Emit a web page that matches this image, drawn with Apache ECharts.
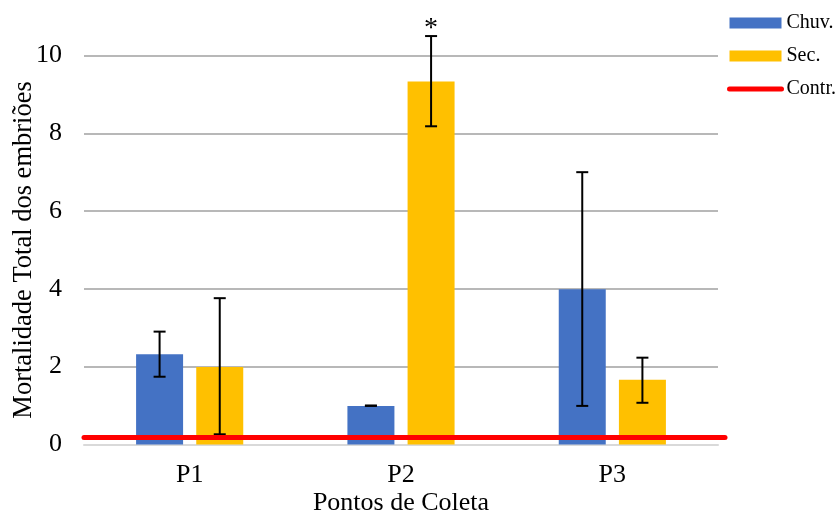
<!DOCTYPE html>
<html>
<head>
<meta charset="utf-8">
<script src="https://cdn.jsdelivr.net/npm/echarts@6/dist/echarts.min.js"></script>
<style>html,body{margin:0;padding:0;background:#fff}#c{width:838px;height:515px}</style>
</head>
<body>
<div id="c"></div>
<script>
const categories = ['P1', 'P2', 'P3'];
const chuv = [2.32, 0.99, 3.99];
const chuvLow = [1.74, 0.99, 0.99];
const chuvHigh = [2.90, 1.00, 7.00];
const sec = [1.99, 9.33, 1.66];
const secLow = [0.26, 8.18, 1.07];
const secHigh = [3.76, 10.50, 2.23];
const secMarks = ['', '*', ''];
const contr = 0.18;
const yTicks = [0, 2, 4, 6, 8, 10];

const FONT = 'Liberation Serif';
const BAR_W = 47;
const GAP = 0.28;
const OFF = BAR_W * (1 + GAP) / 2;

function errSeries(name, low, high, dir, marks) {
  return {
    type: 'custom', name: name + '_err', xAxisIndex: 0, yAxisIndex: 0, z: 5,
    data: categories.map((c, i) => [i, low[i], high[i]]),
    renderItem: function (params, api) {
      const i = api.value(0);
      const lo = api.coord([i, api.value(1)]);
      const hi = api.coord([i, api.value(2)]);
      const x = lo[0] + dir * OFF;
      const cw = 6;
      const st = { stroke: '#000', lineWidth: 2 };
      const children = [
        { type: 'line', shape: { x1: x, y1: lo[1], x2: x, y2: hi[1] }, style: st },
        { type: 'line', shape: { x1: x - cw, y1: lo[1], x2: x + cw, y2: lo[1] }, style: st },
        { type: 'line', shape: { x1: x - cw, y1: hi[1], x2: x + cw, y2: hi[1] }, style: st }
      ];
      if (marks && marks[i]) {
        children.push({ type: 'text', style: { text: marks[i], x: x, y: hi[1] - 7, align: 'center', verticalAlign: 'middle', font: '28px "' + FONT + '"', fill: '#000' } });
      }
      return { type: 'group', children: children };
    }
  };
}

const chart = echarts.init(document.getElementById('c'));
chart.setOption({
  animation: false,
  textStyle: { fontFamily: FONT, color: '#000' },
  grid: [
    { left: 84, right: 120, top: 55.5, bottom: 70.6, outerBoundsMode: 'none', containLabel: false },
    { left: 84, right: 113, top: 55.5, bottom: 70.6, outerBoundsMode: 'none', containLabel: false }
  ],
  legend: {
    orient: 'vertical', left: 722, top: 8, itemWidth: 52, itemHeight: 11, itemGap: 13,
    textStyle: { fontFamily: FONT, fontSize: 20, color: '#000' },
    data: [
      { name: 'Chuv.', icon: 'rect' },
      { name: 'Sec.', icon: 'rect' },
      { name: 'Contr.', itemStyle: { opacity: 0 }, lineStyle: { width: 5, color: '#ff0000', cap: 'round' } }
    ]
  },
  xAxis: [
    {
      type: 'category', data: categories, gridIndex: 0,
      axisLine: { lineStyle: { color: '#d9d9d9', width: 2 } }, axisTick: { show: false },
      axisLabel: { fontFamily: FONT, fontSize: 26, color: '#000', margin: 18 },
      name: 'Pontos de Coleta', nameLocation: 'middle', nameGap: 46, nameMoveOverlap: false,
      nameTextStyle: { fontFamily: FONT, fontSize: 26, color: '#000' }
    },
    { type: 'value', gridIndex: 1, min: 0, max: 1, show: false }
  ],
  yAxis: [
    {
      type: 'value', gridIndex: 0, min: yTicks[0], max: yTicks[yTicks.length - 1], interval: 2,
      axisLine: { show: false }, axisTick: { show: false },
      splitLine: { lineStyle: { color: '#a0a0a0', width: 1.5 } },
      axisLabel: { fontFamily: FONT, fontSize: 26, color: '#000', margin: 22 },
      name: 'Mortalidade Total dos embriões', nameLocation: 'middle', nameGap: 46, nameMoveOverlap: false,
      nameTextStyle: { fontFamily: FONT, fontSize: 26.5, color: '#000' }
    },
    { type: 'value', gridIndex: 1, min: 0, max: 10, show: false }
  ],
  series: [
    { name: 'Chuv.', type: 'bar', data: chuv, barWidth: BAR_W, barGap: (GAP * 100) + '%', itemStyle: { color: '#4472c4' } },
    { name: 'Sec.', type: 'bar', data: sec, barWidth: BAR_W, itemStyle: { color: '#ffc000' } },
    errSeries('Chuv.', chuvLow, chuvHigh, -1, null),
    errSeries('Sec.', secLow, secHigh, 1, secMarks),
    {
      name: 'Contr.', type: 'line', xAxisIndex: 1, yAxisIndex: 1, z: 10,
      data: [[0, contr], [1, contr]], symbol: 'none',
      lineStyle: { color: '#ff0000', width: 5, cap: 'round' }, itemStyle: { color: '#ff0000' }
    }
  ]
});
</script>
</body>
</html>
